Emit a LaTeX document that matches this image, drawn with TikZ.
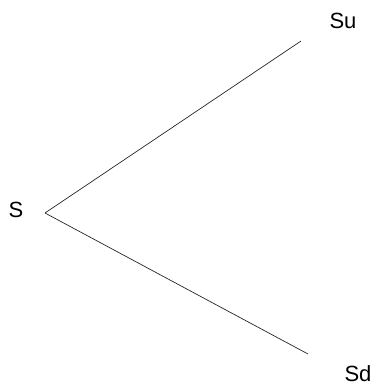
\documentclass[tikz,border=0pt]{standalone}
\usepackage{fontspec}
\setmainfont{Liberation Sans}
\begin{document}
\begin{tikzpicture}[x=1pt,y=-1pt,
  lbl/.style={inner sep=0pt,font=\fontsize{22}{24}\selectfont},
  branch/.style={draw=black!85,line width=0.7pt}]
\useasboundingbox (0,0) rectangle (377,386);
\node[lbl] (S) at (16,210) {S};
\node[lbl] (Su) at (343,21) {Su};
\node[lbl] (Sd) at (358,374) {Sd};
\coordinate (v) at (45,213);
\coordinate (up) at (301,41);
\coordinate (dn) at (308,354);
\draw[branch] (v) -- (up);
\draw[branch] (v) -- (dn);
\end{tikzpicture}
\end{document}
